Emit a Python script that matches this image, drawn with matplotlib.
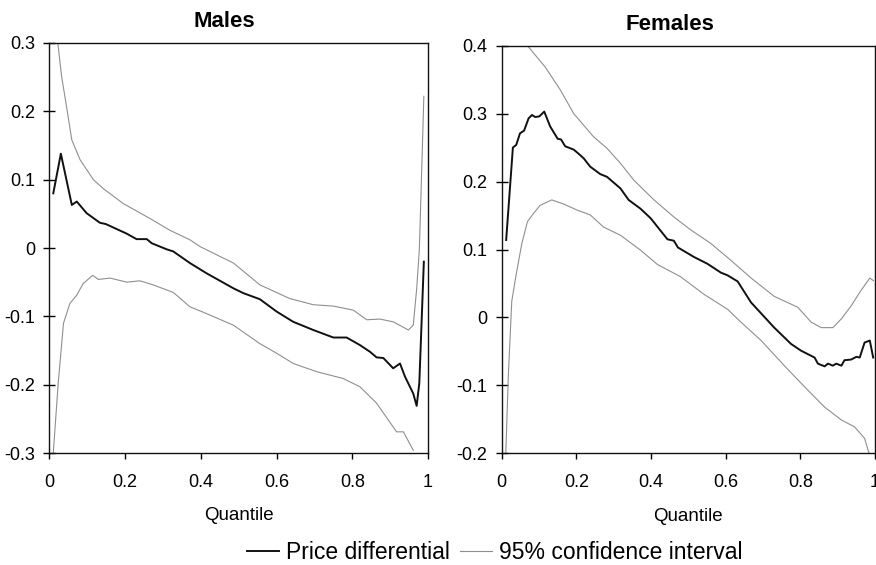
import matplotlib
matplotlib.use("Agg")
import matplotlib.pyplot as plt
from matplotlib.ticker import FuncFormatter

plt.rcParams["font.family"] = ["Liberation Sans", "DejaVu Sans"]

# Males: price differential and 95% band
males_diff_q = [0.01, 0.03, 0.059, 0.072, 0.098, 0.133, 0.149, 0.204, 0.23, 0.257, 0.27, 0.31,
                0.327, 0.371, 0.415, 0.486, 0.512, 0.556, 0.6, 0.644, 0.697, 0.75, 0.785, 0.82,
                0.847, 0.864, 0.882, 0.908, 0.926, 0.939, 0.961, 0.97, 0.977, 0.989]
males_diff = [0.080, 0.138, 0.063, 0.068, 0.051, 0.037, 0.035, 0.021, 0.013, 0.013, 0.007, -0.002,
              -0.005, -0.022, -0.037, -0.059, -0.066, -0.075, -0.093, -0.108, -0.120, -0.131, -0.131, -0.142,
              -0.152, -0.160, -0.161, -0.176, -0.169, -0.188, -0.213, -0.231, -0.198, -0.020]

males_upper_q = [0.015, 0.021, 0.032, 0.045, 0.059, 0.081, 0.116, 0.142, 0.195, 0.266, 0.318, 0.371,
                 0.398, 0.486, 0.556, 0.635, 0.697, 0.75, 0.803, 0.838, 0.873, 0.908, 0.948, 0.961,
                 0.97, 0.977, 0.981, 0.989]
males_upper = [0.34, 0.305, 0.251, 0.207, 0.158, 0.129, 0.100, 0.087, 0.065, 0.043, 0.026, 0.012,
               0.002, -0.022, -0.054, -0.074, -0.083, -0.085, -0.091, -0.105, -0.104, -0.108, -0.120, -0.113,
               -0.060, -0.003, 0.070, 0.222]

males_lower_q = [0.01, 0.023, 0.037, 0.054, 0.072, 0.089, 0.114, 0.129, 0.16, 0.204, 0.239, 0.274,
                 0.327, 0.371, 0.415, 0.486, 0.556, 0.6, 0.644, 0.706, 0.776, 0.82, 0.864, 0.917,
                 0.935, 0.961]
males_lower = [-0.30, -0.198, -0.110, -0.081, -0.069, -0.052, -0.040, -0.046, -0.044, -0.050, -0.048, -0.054,
               -0.065, -0.086, -0.096, -0.113, -0.140, -0.154, -0.169, -0.181, -0.191, -0.203, -0.227, -0.269,
               -0.269, -0.296]

# Females
females_diff_q = [0.012, 0.03, 0.039, 0.049, 0.06, 0.072, 0.081, 0.09, 0.101, 0.114, 0.13, 0.15,
                  0.159, 0.17, 0.193, 0.206, 0.22, 0.237, 0.264, 0.282, 0.318, 0.34, 0.372, 0.399,
                  0.444, 0.461, 0.472, 0.515, 0.551, 0.587, 0.605, 0.632, 0.668, 0.73, 0.775, 0.802,
                  0.838, 0.847, 0.865, 0.874, 0.887, 0.896, 0.91, 0.918, 0.936, 0.95, 0.959, 0.972,
                  0.986, 0.995]
females_diff = [0.114, 0.250, 0.254, 0.271, 0.275, 0.293, 0.298, 0.295, 0.296, 0.303, 0.281, 0.263,
                0.262, 0.252, 0.247, 0.241, 0.234, 0.222, 0.211, 0.207, 0.190, 0.173, 0.160, 0.146,
                0.115, 0.113, 0.103, 0.089, 0.079, 0.066, 0.062, 0.053, 0.022, -0.015, -0.039, -0.049,
                -0.059, -0.068, -0.072, -0.068, -0.071, -0.068, -0.071, -0.063, -0.062, -0.058, -0.059, -0.037,
                -0.034, -0.059]

females_upper_q = [0.05, 0.069, 0.116, 0.157, 0.193, 0.246, 0.282, 0.318, 0.354, 0.408, 0.461, 0.506,
                   0.56, 0.614, 0.668, 0.73, 0.793, 0.829, 0.856, 0.887, 0.91, 0.936, 0.959, 0.986,
                   0.996]
females_upper = [0.43, 0.400, 0.369, 0.335, 0.300, 0.266, 0.249, 0.227, 0.202, 0.173, 0.148, 0.129,
                 0.109, 0.084, 0.058, 0.031, 0.015, -0.007, -0.015, -0.015, -0.002, 0.017, 0.037, 0.058,
                 0.054]

females_lower_q = [0.011, 0.018, 0.027, 0.039, 0.054, 0.069, 0.085, 0.103, 0.134, 0.166, 0.202, 0.237,
                   0.273, 0.318, 0.372, 0.417, 0.479, 0.542, 0.605, 0.641, 0.695, 0.757, 0.811, 0.865,
                   0.91, 0.945, 0.972, 0.984]
females_lower = [-0.20, -0.083, 0.024, 0.064, 0.109, 0.141, 0.153, 0.165, 0.173, 0.167, 0.158, 0.151,
                 0.133, 0.121, 0.099, 0.078, 0.060, 0.034, 0.012, -0.007, -0.034, -0.071, -0.102, -0.132,
                 -0.151, -0.161, -0.178, -0.20]

LINE = "#111111"
BAND = "#8f8f8f"


def tick_fmt(v, pos):
    if abs(v) < 1e-9:
        return "0"
    return f"{v:g}"


def style_axes(ax, title, title_x, ylim, yticks):
    ax.set_xlim(0, 1)
    ax.set_ylim(*ylim)
    ax.set_xticks([0, 0.2, 0.4, 0.6, 0.8, 1.0])
    ax.set_yticks(yticks)
    ax.xaxis.set_major_formatter(FuncFormatter(tick_fmt))
    ax.yaxis.set_major_formatter(FuncFormatter(tick_fmt))
    ax.tick_params(axis="x", direction="out", length=4.3, width=1, labelsize=13, pad=10.5)
    ax.tick_params(axis="y", direction="inout", length=8.5, width=1, labelsize=13, pad=6)
    for sp in ax.spines.values():
        sp.set_linewidth(1.0)
        sp.set_color("#111111")
    ax.set_title(title, fontsize=16, fontweight="bold", pad=11.5, x=title_x)
    ax.set_xlabel("Quantile", fontsize=13.5, labelpad=12)


fig = plt.figure(figsize=(8.76, 5.65), dpi=100)
ax1 = fig.add_axes([0.0565, 0.1982, 0.4321, 0.7257])
ax2 = fig.add_axes([0.5727, 0.1977, 0.4262, 0.7214])

ax1.plot(males_upper_q, males_upper, color=BAND, lw=0.8, label="95% confidence interval")
ax1.plot(males_lower_q, males_lower, color=BAND, lw=0.8)
ax1.plot(males_diff_q, males_diff, color=LINE, lw=1.4, label="Price differential")
style_axes(ax1, "Males", 0.462, (-0.3, 0.3), [-0.3, -0.2, -0.1, 0, 0.1, 0.2, 0.3])

ax2.plot(females_upper_q, females_upper, color=BAND, lw=0.8)
ax2.plot(females_lower_q, females_lower, color=BAND, lw=0.8)
ax2.plot(females_diff_q, females_diff, color=LINE, lw=1.4)
style_axes(ax2, "Females", 0.451, (-0.2, 0.4), [-0.2, -0.1, 0, 0.1, 0.2, 0.3, 0.4])

handles, labels = ax1.get_legend_handles_labels()
fig.legend(handles[::-1], labels[::-1], loc="center", bbox_to_anchor=(0.565, 0.022),
           ncol=2, frameon=False, fontsize=16.5, handlelength=1.4, handletextpad=0.3,
           columnspacing=0.45, borderpad=0.2)

fig.savefig("out.png", dpi=100)
